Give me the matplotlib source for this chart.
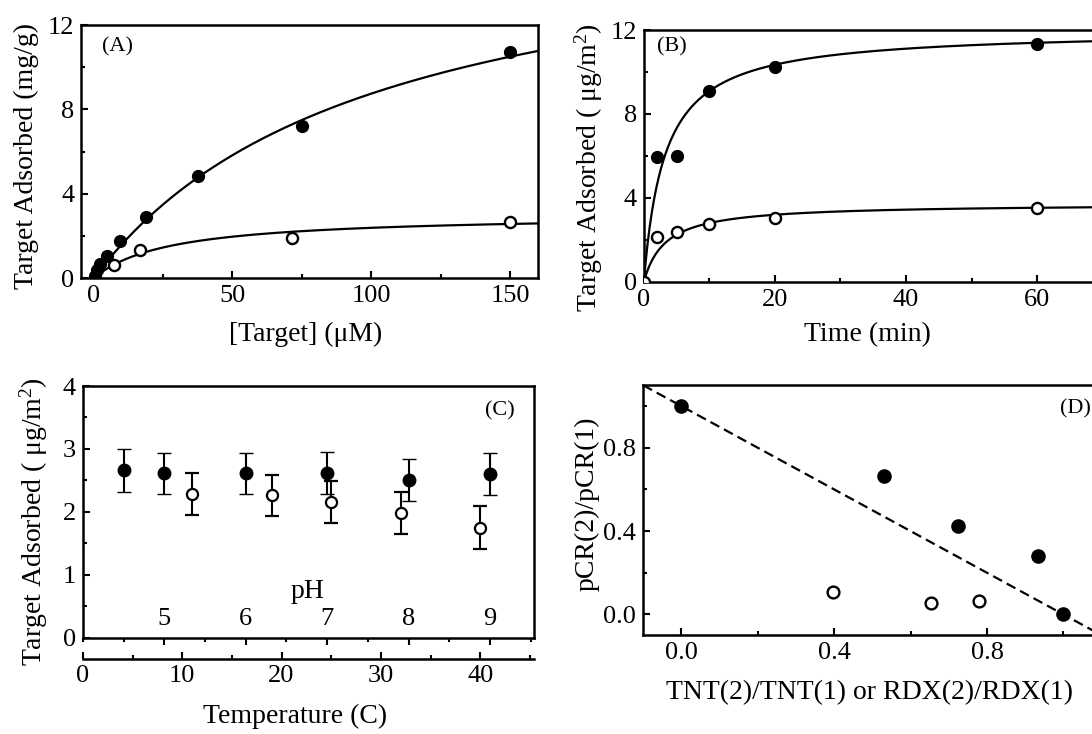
import numpy as np
import matplotlib
matplotlib.use('Agg')
import matplotlib.pyplot as plt
from matplotlib.ticker import MultipleLocator

plt.rcParams['font.family'] = ['Liberation Serif', 'DejaVu Serif']
plt.rcParams['mathtext.default'] = 'regular'
plt.rcParams['axes.linewidth'] = 1.8

# (A) isotherm
conc_filled = [0.3, 1.2, 2.3, 4.7, 9.4, 18.8, 37.5, 75, 150]
ads_conc_filled = [0.1, 0.4, 0.7, 1.05, 1.75, 2.9, 4.85, 7.2, 10.7]
conc_open = [7.5, 16.6, 71.5, 150]
ads_conc_open = [0.62, 1.34, 1.93, 2.67]
fit_a_filled = (17.5, 100.0)   # qmax, half-saturation
fit_a_open = (3.04, 27.0)

# (B) kinetics
time_filled = [2, 5, 10, 20, 60]
ads_time_filled = [5.94, 5.99, 9.1, 10.25, 11.33]
time_open = [0, 2, 5, 10, 20, 60]
ads_time_open = [0.0, 2.14, 2.35, 2.73, 3.04, 3.53]
fit_b_filled = (12.0, 3.2)
fit_b_open = (3.72, 3.3)

# (C) pH / temperature
ph_values = [4.5, 5, 6, 7, 8, 9]
ads_ph = [2.66, 2.61, 2.61, 2.62, 2.51, 2.60]
err_ph = [0.34, 0.33, 0.33, 0.33, 0.335, 0.335]
temp_values = [11, 19, 25, 32, 40]
ads_temp = [2.28, 2.26, 2.15, 1.98, 1.75]
err_temp = [0.33, 0.33, 0.335, 0.33, 0.34]
ph_ticks = [5, 6, 7, 8, 9]

# (D) ratios
ratio_filled_x = [0.0, 0.531, 0.723, 0.933, 1.0]
ratio_filled_y = [1.0, 0.666, 0.426, 0.279, 0.0]
ratio_open_x = [0.398, 0.653, 0.78]
ratio_open_y = [0.107, 0.056, 0.064]
ideal_line_x = [-0.1, 1.2]
ideal_line_y = [1.1, -0.2]

TICK = 19
LABEL = 20


def langmuir(x, p):
    return p[0] * x / (p[1] + x)


def style(ax, xmaj, xmin, ymaj, ymin):
    ax.xaxis.set_major_locator(MultipleLocator(xmaj))
    ax.xaxis.set_minor_locator(MultipleLocator(xmin))
    ax.yaxis.set_major_locator(MultipleLocator(ymaj))
    ax.yaxis.set_minor_locator(MultipleLocator(ymin))
    ax.tick_params(which='both', direction='in', top=False, right=False,
                   labelsize=TICK, width=1.5, pad=5)
    ax.tick_params(which='major', length=5)
    ax.tick_params(which='minor', length=3)


fig = plt.figure(figsize=(10.92, 7.34), dpi=100)

filled = dict(marker='o', ls='none', mfc='black', mec='black', ms=8.5, mew=1, zorder=3)
hollow = dict(marker='o', ls='none', mfc='white', mec='black', ms=8, mew=1.7, zorder=3)

# ---- A
axA = fig.add_axes([0.0746, 0.6208, 0.4179, 0.3451])
xs = np.linspace(0, 160, 300)
axA.plot(xs, langmuir(xs, fit_a_filled), color='black', lw=1.6)
axA.plot(xs, langmuir(xs, fit_a_open), color='black', lw=1.6)
axA.plot(conc_open, ads_conc_open, **hollow)
axA.plot(conc_filled, ads_conc_filled, **filled)
axA.set_xlim(-4.4, 160)
axA.set_ylim(0, 12)
style(axA, 50, 25, 4, 2)
axA.set_xlabel('[Target] (\u03bcM)', fontsize=LABEL, va='top')
axA.set_ylabel('Target Adsorbed (mg/g)', fontsize=LABEL)
axA.xaxis.set_label_coords(0.492, -0.171)
axA.yaxis.set_label_coords(-0.092, 0.484)
axA.text(0.078, 0.914, '(A)', transform=axA.transAxes, fontsize=16, ha='center', va='center')

# ---- B
axB = fig.add_axes([0.5896, 0.6162, 0.4202, 0.3429])
ts = np.linspace(0, 70, 400)
axB.plot(ts, langmuir(ts, fit_b_filled), color='black', lw=1.6)
axB.plot(ts, langmuir(ts, fit_b_open), color='black', lw=1.6)
axB.plot(time_open, ads_time_open, **hollow)
axB.plot(time_filled, ads_time_filled, **filled)
axB.set_xlim(0, 70)
axB.set_ylim(0, 12)
style(axB, 20, 10, 4, 2)
axB.set_xlabel('Time (min)', fontsize=LABEL)
axB.set_ylabel('Target Adsorbed ( \u03bcg/m$^{2}$)', fontsize=LABEL)
axB.xaxis.set_label_coords(0.487, -0.159)
axB.yaxis.set_label_coords(-0.084, 0.452)
axB.text(0.061, 0.934, '(B)', transform=axB.transAxes, fontsize=16, ha='center', va='center')

# ---- C
axC = fig.add_axes([0.0759, 0.1312, 0.4130, 0.3429])
axC.errorbar(ph_values, ads_ph, yerr=err_ph, fmt='o', mfc='black', mec='black',
             ecolor='black', ms=9, mew=1, capsize=5, elinewidth=1.5, capthick=1.5, zorder=3)
axC.set_xlim(4.0, 9.54)
axC.set_ylim(0, 4)
style(axC, 1, 0.5, 1, 0.5)
axC.set_xticks(ph_ticks)
axC.tick_params(axis='x', which='both', direction='out', labelbottom=False)
for v in ph_ticks:
    axC.text(v, 0.30, str(v), fontsize=TICK, ha='center', va='center')
axC.text(0.498, 0.182, 'pH', transform=axC.transAxes, fontsize=LABEL, ha='center', va='center')
axC.set_ylabel('Target Adsorbed ( \u03bcg/m$^{2}$)', fontsize=LABEL)
axC.yaxis.set_label_coords(-0.073, 0.46)
axC.text(0.925, 0.903, '(C)', transform=axC.transAxes, fontsize=16, ha='center', va='center')

axT = axC.twiny()
axT.errorbar(temp_values, ads_temp, yerr=err_temp, fmt='o', mfc='white', mec='black',
             ecolor='black', ms=8, mew=1.6, capsize=5, elinewidth=1.5, capthick=1.5, zorder=3)
axT.set_xlim(0, 45.4)
axT.xaxis.set_ticks_position('bottom')
axT.xaxis.set_label_position('bottom')
axT.spines['bottom'].set_position(('outward', 15))
for s in ['top', 'left', 'right']:
    axT.spines[s].set_visible(False)
axT.xaxis.set_major_locator(MultipleLocator(10))
axT.xaxis.set_minor_locator(MultipleLocator(5))
axT.tick_params(which='both', direction='in', labelsize=TICK, width=1.5, pad=5)
axT.tick_params(which='major', length=5)
axT.tick_params(which='minor', length=3)
axT.set_xlabel('Temperature (C)', fontsize=LABEL)
axT.xaxis.set_label_coords(0.471, -0.262)

# ---- D
axD = fig.add_axes([0.5890, 0.1345, 0.4198, 0.3406])
axD.plot(ideal_line_x, ideal_line_y, color='black', lw=1.6, ls=(0, (4.5, 2.4)))
axD.plot(ratio_open_x, ratio_open_y, **dict(hollow, ms=8.5))
axD.plot(ratio_filled_x, ratio_filled_y, **dict(filled, ms=9.5))
axD.set_xlim(-0.1, 1.1)
axD.set_ylim(-0.1, 1.1)
style(axD, 0.4, 0.2, 0.4, 0.2)
axD.set_xlabel('TNT(2)/TNT(1) or RDX(2)/RDX(1)', fontsize=LABEL)
axD.set_ylabel('pCR(2)/pCR(1)', fontsize=LABEL)
axD.xaxis.set_label_coords(0.4926, -0.18)
axD.yaxis.set_label_coords(-0.094, 0.526)
axD.text(0.9435, 0.906, '(D)', transform=axD.transAxes, fontsize=16, ha='center', va='center')

fig.savefig('out.png', dpi=100)
